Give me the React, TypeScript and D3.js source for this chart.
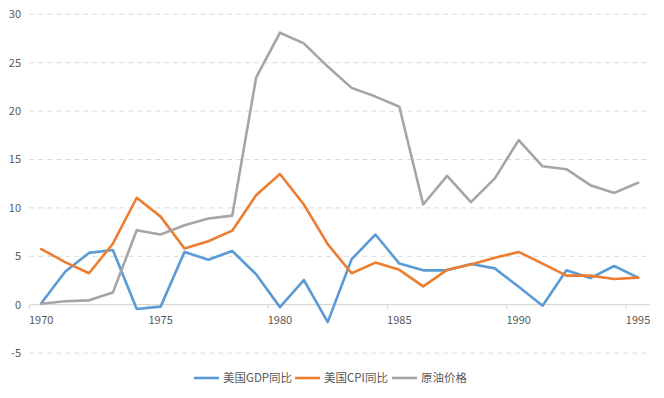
import React from 'react';
import * as d3 from 'd3';

const years = d3.range(1970, 1996);
const gdp = [0.15, 3.4, 5.35, 5.65, -0.45, -0.2, 5.45, 4.65, 5.55, 3.15, -0.25, 2.55, -1.8, 4.7, 7.25, 4.25, 3.55, 3.55, 4.2, 3.75, 1.85, -0.1, 3.55, 2.75, 4.0, 2.8];
const cpi = [5.75, 4.4, 3.25, 6.3, 11.05, 9.1, 5.8, 6.55, 7.65, 11.3, 13.5, 10.35, 6.25, 3.25, 4.35, 3.6, 1.9, 3.6, 4.15, 4.85, 5.45, 4.25, 3.0, 3.0, 2.65, 2.8];
const oil = [0.1, 0.35, 0.45, 1.25, 7.7, 7.25, 8.2, 8.9, 9.2, 23.45, 28.1, 27.0, 24.6, 22.4, 21.5, 20.45, 10.35, 13.3, 10.6, 13.05, 17.0, 14.3, 14.0, 12.35, 11.55, 12.6];
const yTicks = [-5, 0, 5, 10, 15, 20, 25, 30];
const xLabels = [1970, 1975, 1980, 1985, 1990, 1995];

const series = [
  { name: '美国GDP同比', values: gdp, color: '#5B9BD5' },
  { name: '美国CPI同比', values: cpi, color: '#ED7D31' },
  { name: '原油价格', values: oil, color: '#A5A5A5' },
];

function Chart() {
  const W = 664, H = 398;
  const left = 29.3, right = 650;
  const x = d3.scaleBand<number>().domain(years).range([left, right]);
  const y = d3.scaleLinear().domain([-5, 30]).range([353.1, 14.3]);
  const cx = (yr: number) => (x(yr) as number) + x.bandwidth() / 2;

  const line = d3.line<number>()
    .x((_, i) => cx(years[i]))
    .y(d => y(d));

  const font = '"Microsoft YaHei", "Noto Sans CJK SC", sans-serif';
  const legendX = [194, 295, 392];

  return (
    <svg width={W} height={H} style={{ position: 'absolute', left: 0, top: 0 }} fontFamily={font}>
      <rect width={W} height={H} fill="#fff" />
      {yTicks.filter(t => t !== 0).map(t => (
        <line key={t} x1={left} x2={right} y1={y(t)} y2={y(t)} stroke="#D9D9D9" strokeWidth={1} strokeDasharray="5,4" />
      ))}
      {yTicks.map(t => (
        <text key={t} x={21} y={y(t)} dy="0.35em" textAnchor="end" fontSize={11} fill="#595959">{t}</text>
      ))}
      <line x1={left} x2={right} y1={y(0)} y2={y(0)} stroke="#D0D0D0" strokeWidth={1} />
      {xLabels.map(yr => (
        <g key={yr}>
          <line x1={x(yr) as number} x2={x(yr) as number} y1={y(0)} y2={y(0) + 4} stroke="#D0D0D0" />
          <text x={cx(yr)} y={320} dy="0.35em" textAnchor="middle" fontSize={11} fill="#595959">{yr}</text>
        </g>
      ))}
      {series.map(s => (
        <path key={s.name} d={line(s.values) || ''} fill="none" stroke={s.color} strokeWidth={2.6} strokeLinejoin="round" strokeLinecap="round" />
      ))}
      {series.map((s, i) => (
        <g key={s.name} transform={`translate(${legendX[i]},378)`}>
          <line x1={0} x2={25} y1={0} y2={0} stroke={s.color} strokeWidth={2.6} />
          <text x={29} y={0} dy="0.35em" fontSize={11.5} fill="#595959">{s.name}</text>
        </g>
      ))}
    </svg>
  );
}

export default function App() {
  return <Chart />;
}
